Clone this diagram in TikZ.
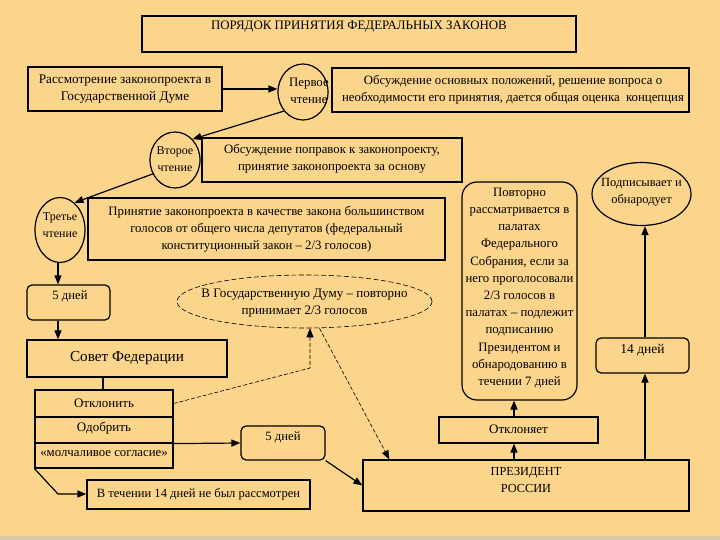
\documentclass[tikz,border=0pt]{standalone}
\usepackage{fontspec}
\setmainfont{Liberation Serif}
\usetikzlibrary{arrows.meta,shapes.geometric,calc}
\definecolor{bg}{RGB}{252,213,140}
\definecolor{band}{RGB}{214,200,168}
\begin{document}
\begin{tikzpicture}[x=1pt,y=-1pt,
  box/.style={draw, line width=1.2pt, fill=bg, rectangle, inner sep=0pt},
  rbox/.style={box, rounded corners=5pt},
  oval/.style={draw, line width=1.2pt, ellipse, inner sep=0pt, fill=bg},
  dashoval/.style={draw, line width=0.6pt, dash pattern=on 5pt off 2.5pt, ellipse, inner sep=0pt},
  txt/.style={font=\fontsize{#1}{17}\selectfont, align=center, inner sep=0pt},
  txt/.default=12.5,
  arr/.style={line width=1.2pt, -{Triangle[length=9pt,width=7pt]}},
  darr/.style={line width=0.6pt, dash pattern=on 4pt off 2pt, -{Triangle[length=9pt,width=7pt]}},
  plain/.style={line width=1.2pt}
]
\fill[bg] (0,0) rectangle (720,540);
\fill[band] (0,536) rectangle (720,540);
\useasboundingbox (0,0) rectangle (720,540);

% title
\node[box, minimum width=434pt, minimum height=36pt] (title) at (359,34) {};
\node[txt=12.9] (titlet) at (359,27) {ПОРЯДОК ПРИНЯТИЯ ФЕДЕРАЛЬНЫХ ЗАКОНОВ};

% first reading row
\node[box, minimum width=194pt, minimum height=44pt] (rass) at (125,89) {};
\node[txt=13.2] (rasst) at (125,89) {Рассмотрение законопроекта в\\Государственной Думе};
\node[oval, minimum width=50pt, minimum height=56pt] (c1) at (303,92) {};
\node[txt=12.8, anchor=west] (c1t) at (289,91) {Первое\\чтение};
\node[box, minimum width=357pt, minimum height=44pt] (obs) at (510.5,90) {};
\node[txt=12.8] (obst) at (513,89.5) {Обсуждение основных положений, решение вопроса о\\необходимости его принятия, дается общая оценка~~концепция};

% second reading
\node[oval, minimum width=50pt, minimum height=56pt] (c2) at (175,160) {};
\node[txt=12] (c2t) at (175,159) {Второе\\чтение};
\node[box, minimum width=260pt, minimum height=44pt] (popr) at (332,160) {};
\node[txt=12.8] (poprt) at (332,159) {Обсуждение поправок к законопроекту,\\принятие законопроекта за основу};

% third reading
\node[oval, minimum width=50pt, minimum height=65pt] (c3) at (60,230) {};
\node[txt=12] (c3t) at (60,225) {Третье\\чтение};
\node[box, minimum width=357pt, minimum height=62pt] (prin) at (266.5,229) {};
\node[txt=12.8] (print) at (266.5,229) {Принятие законопроекта в качестве закона большинством\\голосов от общего числа депутатов (федеральный\\конституционный закон -- 2/3 голосов)};

% 5 days, Federation Council
\node[rbox, minimum width=83pt, minimum height=35pt] (d5a) at (68.5,302.5) {};
\node[txt=12.7] (d5at) at (70,296) {5 дней};
\node[box, minimum width=200pt, minimum height=37pt] (sf) at (127,358.5) {};
\node[txt=15.2] (sft) at (127,358) {Совет Федерации};

% stacked decisions
\node[box, minimum width=138pt, minimum height=27pt] (otkl) at (104,403.5) {};
\node[txt=13] (otklt) at (104,403) {Отклонить};
\node[box, minimum width=138pt, minimum height=26pt] (odob) at (104,430) {};
\node[txt=13] (odobt) at (104,428.5) {Одобрить};
\node[box, minimum width=138pt, minimum height=25pt] (molch) at (104,455.5) {};
\node[txt=12.8] (molcht) at (104,454) {«молчаливое согласие»};

% 5 days (2) and 14 days not considered
\node[rbox, minimum width=84pt, minimum height=34pt] (d5b) at (283,443) {};
\node[txt=12.7] (d5bt) at (283,437) {5 дней};
\node[box, minimum width=223pt, minimum height=29pt] (tech) at (198.5,494.5) {};
\node[txt=12.6] (techt) at (198.5,494) {В течении 14 дней не был рассмотрен};

% dashed ellipse
\node[dashoval, minimum width=255pt, minimum height=53pt] (dell) at (304.5,301.5) {};
\node[txt=13] (dellt) at (304.5,303.5) {В Государственную Думу -- повторно\\принимает 2/3 голосов};

% President
\node[box, minimum width=326pt, minimum height=51pt] (pres) at (526,485.5) {};
\node[txt=12.3] (prest) at (526,480) {ПРЕЗИДЕНТ\\РОССИИ};
\node[box, minimum width=159pt, minimum height=26pt] (otk2) at (518.5,430) {};
\node[txt=13] (otk2t) at (518.5,429) {Отклоняет};
\node[box, rounded corners=15pt, minimum width=115pt, minimum height=218pt] (pov) at (519.5,291) {};
\node[txt=12.8, font=\fontsize{12.8}{17.2}\selectfont] (povt) at (519.5,288) {Повторно\\рассматривается в\\палатах\\Федерального\\Собрания, если за\\него проголосовали\\2/3 голосов в\\палатах -- подлежит\\подписанию\\Президентом и\\обнародованию в\\течении 7 дней};

% sign and 14 days
\node[oval, minimum width=99pt, minimum height=63pt] (sign) at (641.5,194) {};
\node[txt=12.5] (signt) at (641.5,192.5) {Подписывает и\\обнародует};
\node[rbox, minimum width=93pt, minimum height=35pt] (d14) at (642.5,355.5) {};
\node[txt=13.5] (d14t) at (642.5,350.5) {14 дней};

% helper coordinates
\coordinate (ax1) at (514,0);
\coordinate (ax2) at (645,0);
\coordinate (ax3) at (58,0);
\coordinate (ax4) at (103,0);
\coordinate (k1) at (310,368);
\coordinate (bend) at (58,494);

% connectors
\draw[arr] (rass.east) -- (rass.east -| c1.west);
\draw[arr] (c1.225) -- (c2.50);
\draw[arr] (c2.212) -- (c3.62);
\draw[arr] (c3.south -| ax3) -- (d5a.north -| ax3);
\draw[arr] (d5a.south -| ax3) -- (sf.north -| ax3);
\draw[plain] (sf.south -| ax4) -- (otkl.north -| ax4);
\draw[arr] (odob.south east) -- (d5b.west);
\draw[arr] (d5b.south east) -- (pres.west);
\draw[arr] (molch.south west) -- (bend) -- (bend -| tech.west);
\draw[darr] (otkl.east) -- (k1) -- (k1 |- dell.south);
\draw[darr] ([xshift=15pt]dell.south) -- ([xshift=27pt]pres.north west);
\draw[arr] (pres.north -| ax1) -- (otk2.south -| ax1);
\draw[arr] (otk2.north -| ax1) -- (pov.south -| ax1);
\draw[arr] (pres.north -| ax2) -- (d14.south -| ax2);
\draw[arr] (d14.north -| ax2) -- (sign.south -| ax2);
\end{tikzpicture}
\end{document}
